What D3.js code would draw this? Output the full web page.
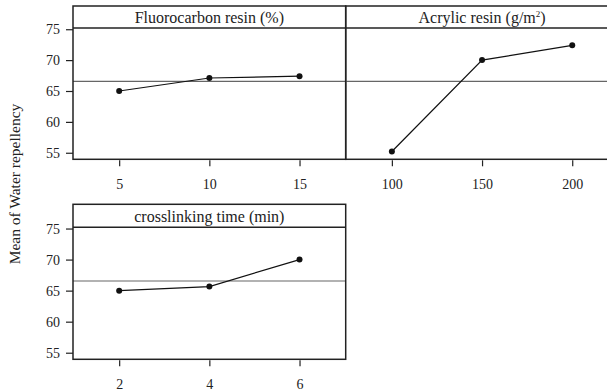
<!DOCTYPE html>
<html lang="en">
  <head>
    <meta charset="utf-8">
    <title>Main effects plot</title>
    <script src="https://cdn.jsdelivr.net/npm/d3@7"></script>
    <style>
    body { margin: 0; background: #fff; }
    text { font-family: "Liberation Serif", "Times New Roman", serif; fill: #222; }
    </style>
  </head>
  <body>
    <script>
      // data
      var factors = ["Fluorocarbon resin (%)", "Acrylic resin (g/m", "crosslinking time (min)"];
      var levels = [[5, 10, 15], [100, 150, 200], [2, 4, 6]];
      var means = [[65.0, 67.1, 67.4], [55.2, 70.0, 72.4], [65.0, 65.65, 70.0]];
      var grandMean = 66.55;
      var yTicks = [55, 60, 65, 70, 75];

      var w = 607, h = 392;
      var panelW = 272.7;
      // panel corners and heights
      var panels = [
        {left: 73, top: 6, headerH: 22, plotH: 131.3},
        {left: 345.7, top: 6, headerH: 22, plotH: 131.3},
        {left: 73, top: 204.3, headerH: 23, plotH: 132}
      ];

      var svg = d3.select("body").append("svg")
        .attr("width", w)
        .attr("height", h);

      var ink = "#222";

      panels.forEach(function(p, i) {
        var headerH = p.headerH, plotH = p.plotH;
        var g = svg.append("g").attr("transform", "translate(" + p.left + "," + p.top + ")");
        var lv = levels[i];
        var pad = (lv[2] - lv[0]) * 0.256;
        var x = d3.scaleLinear().domain([lv[0] - pad, lv[2] + pad]).range([0, panelW]);
        var y = d3.scaleLinear().domain([53.94, 75.2]).range([headerH + plotH, headerH]);

        // reference line at grand mean
        g.append("line")
          .attr("x1", 0).attr("x2", panelW)
          .attr("y1", y(grandMean)).attr("y2", y(grandMean))
          .attr("stroke", "#666").attr("stroke-width", 1.1);

        // data line + markers
        var pts = lv.map(function(d, j) { return [d, means[i][j]]; });
        g.append("path")
          .datum(pts)
          .attr("fill", "none")
          .attr("stroke", "#111")
          .attr("stroke-width", 1.2)
          .attr("d", d3.line().x(function(d) { return x(d[0]); }).y(function(d) { return y(d[1]); }));
        g.selectAll("circle")
          .data(pts)
          .enter()
          .append("circle")
          .attr("cx", function(d) { return x(d[0]); })
          .attr("cy", function(d) { return y(d[1]); })
          .attr("r", 3)
          .attr("fill", "#111");

        // box and header strip
        g.append("rect")
          .attr("x", 0).attr("y", 0)
          .attr("width", panelW).attr("height", headerH + plotH)
          .attr("fill", "none").attr("stroke", ink).attr("stroke-width", 1.5);
        g.append("line")
          .attr("x1", 0).attr("x2", panelW)
          .attr("y1", headerH).attr("y2", headerH)
          .attr("stroke", ink).attr("stroke-width", 1.5);

        var title = g.append("text")
          .attr("x", panelW / 2)
          .attr("y", headerH - 5.5)
          .attr("text-anchor", "middle")
          .attr("font-size", "16px")
          .text(factors[i]);
        if (i == 1) {
          title.append("tspan").attr("font-size", "9px").attr("dy", -6).text("2");
          title.append("tspan").attr("dy", 6).text(")");
        }

        // x axis
        var xa = g.append("g")
          .attr("transform", "translate(0," + (headerH + plotH) + ")")
          .call(d3.axisBottom(x).tickValues(lv).tickFormat(d3.format("d")).tickSize(7).tickSizeOuter(0));
        xa.attr("font-family", null).attr("font-size", null);
        xa.select(".domain").remove();
        xa.selectAll("line").attr("y1", 1).attr("stroke", ink).attr("stroke-width", 1.2);
        xa.selectAll("text")
          .attr("y", 30).attr("dy", null)
          .attr("font-size", "14px")
          .attr("fill", ink);

        // y axis only on left column
        if (p.left < 100) {
          var ya = g.append("g")
            .call(d3.axisLeft(y).tickValues(yTicks).tickSize(7).tickPadding(6));
          ya.attr("font-family", null).attr("font-size", null);
          ya.select(".domain").remove();
          ya.selectAll("line").attr("stroke", ink).attr("stroke-width", 1.2);
          ya.selectAll("text")
            .attr("font-size", "14px")
            .attr("fill", ink);
        }
      });

      svg.append("text")
        .attr("transform", "translate(20,184) rotate(-90)")
        .attr("text-anchor", "middle")
        .attr("font-size", "15.5px")
        .text("Mean of Water repellency");
    </script>
  </body>
</html>
